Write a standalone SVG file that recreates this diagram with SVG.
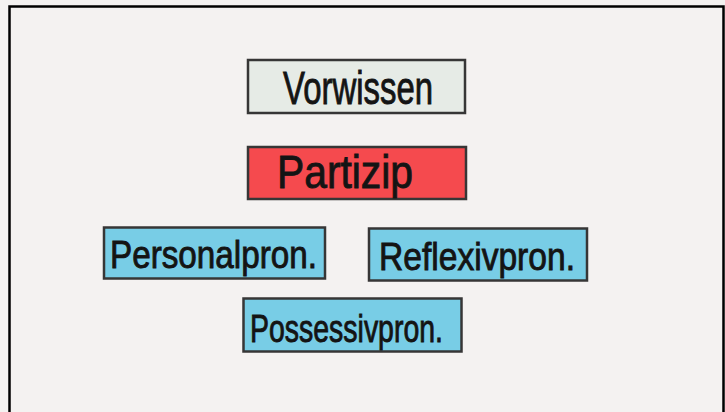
<svg xmlns="http://www.w3.org/2000/svg" width="725" height="412" viewBox="0 0 725 412">
<style>
.card{stroke:#363636;stroke-width:2.5}
.t{font-family:"Liberation Sans","DejaVu Sans",sans-serif;fill:#141414;stroke:#141414;stroke-width:0.9;text-anchor:start}
.big{font-size:47px}
.mid{font-size:39px}
</style>
<rect x="0" y="0" width="725" height="412" fill="#f4f2f1"/>
<path d="M9.5,412 V6.5 H723.5 V412" fill="none" stroke="#000" stroke-width="2.5"/>
<g id="connectors"></g>
<g id="vorwissen">
<rect class="card" x="248" y="60" width="217" height="53" fill="#e6ebe6"/>
<text class="t big" x="283" y="104" textLength="150" lengthAdjust="spacingAndGlyphs">Vorwissen</text>
</g>
<g id="partizip">
<rect class="card" x="248" y="147" width="218" height="52" fill="#f54a4e"/>
<text class="t big" x="277" y="188" textLength="136" lengthAdjust="spacingAndGlyphs">Partizip</text>
</g>
<g id="personalpron">
<rect class="card" x="104" y="227.5" width="221" height="51" fill="#78cde6"/>
<text class="t mid" x="110" y="268" textLength="207" lengthAdjust="spacingAndGlyphs">Personalpron.</text>
</g>
<g id="reflexivpron">
<rect class="card" x="369" y="228.5" width="218" height="52" fill="#78cde6"/>
<text class="t mid" x="379" y="270" textLength="196" lengthAdjust="spacingAndGlyphs">Reflexivpron.</text>
</g>
<g id="possessivpron">
<rect class="card" x="243.5" y="298.5" width="218" height="53" fill="#78cde6"/>
<text class="t mid" x="250" y="342" textLength="193" lengthAdjust="spacingAndGlyphs">Possessivpron.</text>
</g>
</svg>
